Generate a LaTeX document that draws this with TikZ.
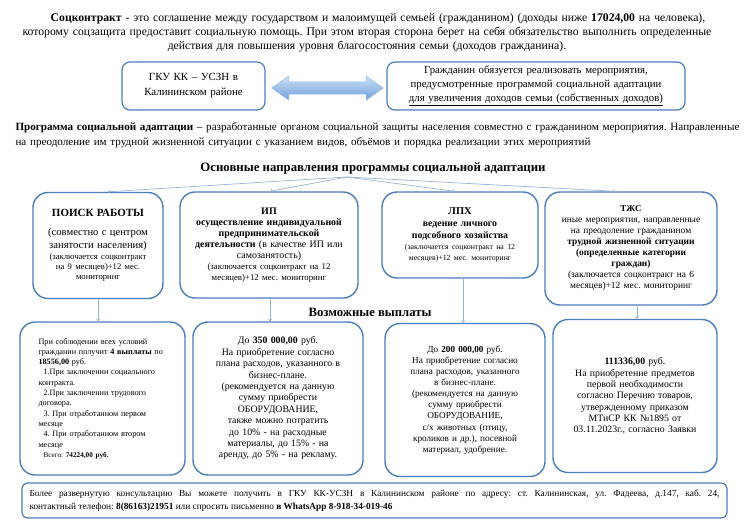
\documentclass[tikz,border=0pt]{standalone}
\usepackage{fontspec}
\setmainfont{Liberation Serif}
\usetikzlibrary{shapes.arrows}
\definecolor{boxblue}{RGB}{74, 126, 187}
\definecolor{linkblue}{RGB}{149, 179, 215}
\definecolor{arrowlight}{RGB}{205, 225, 246}
\definecolor{arrowdark}{RGB}{110, 160, 220}
\newcommand\setsz[2]{\fontsize{#1}{#2}\selectfont}
\frenchspacing

\begin{document}
\begin{tikzpicture}[
    x=1pt, y=-1pt,
    topbox/.style={rectangle, rounded corners=8pt, draw=boxblue, line width=1.2pt,
                   align=center, inner sep=2pt},
    box/.style={rectangle, rounded corners=15pt, draw=boxblue, line width=1.4pt,
                align=center, inner sep=2pt},
    paybox/.style={box, minimum height=153pt},
    link/.style={double arrow, double arrow head extend=6pt, double arrow tip angle=70,
                 minimum height=112pt, minimum width=24pt, inner xsep=0pt, inner ysep=6pt,
                 draw=arrowdark!70, top color=arrowlight, bottom color=arrowdark},
    arrow/.style={->, color=linkblue, line width=0.7pt},
    heading/.style={font=\setsz{12.8}{15}\bfseries}
]
    \useasboundingbox (0,0) rectangle (750,528);

    % Intro text
    \node[text width=740pt, align=center, font=\setsz{11.7}{14}] (intro) at (367,33)
        {\hspace*{22pt}\textbf{Соцконтракт} - это соглашение между государством и малоимущей семьей (гражданином) (доходы ниже \textbf{17024,00} на человека),\\
         которому соцзащита предоставит социальную помощь. При этом вторая сторона берет на себя обязательство выполнить определенные\\
         действия для повышения уровня благосостояния семьи (доходов гражданина).};

    % Parties
    \node[topbox, minimum width=143pt, minimum height=48pt, text width=138pt,
          font=\setsz{10.9}{15}] (gku) at (193.5,86)
        {ГКУ КК – УСЗН в\\ Калининском районе};
    \node[topbox, minimum width=298pt, minimum height=48pt, text width=292pt,
          font=\setsz{10.8}{14}] (goal) at (536,86)
        {Гражданин обязуется реализовать мероприятия,\\
         предусмотренные программой социальной адаптации\\
         \underline{для увеличения доходов семьи (собственных доходов)}};
    \node[link] (link) at (327.5,88) {};

    % Programme text
    \node[anchor=west, text width=738pt, align=left, font=\setsz{11.1}{15}] (prog) at (12,135.5)
        {\textbf{Программа социальной адаптации} – разработанные органом социальной защиты населения совместно с гражданином мероприятия. Направленные\\
         на преодоление им трудной жизненной ситуации с указанием видов, объёмов и порядка реализации этих мероприятий};

    \node[heading] (dirs) at (373,168) {Основные направления программы социальной адаптации};
    \coordinate (hub) at (347,177);

    % Directions
    \node[box, minimum width=130pt, minimum height=106pt, text width=126pt] (poisk) at (98,245.5)
        {{\setsz{11}{13}\bfseries ПОИСК РАБОТЫ\par}\vspace{6pt}
         {\setsz{10.6}{13}(совместно с центром\\ занятости населения)\par}
         {\setsz{8.6}{10.2}(заключается соцконтракт\\ на 9 месяцев)+12 мес.\\ мониторинг\par}};
    \node[box, minimum width=178pt, minimum height=106pt, text width=174pt] (ip) at (269,245)
        {{\setsz{10}{11}\bfseries ИП\par}
         {\setsz{9.9}{11.1}\textbf{осуществление индивидуальной}\\ \textbf{предпринимательской}\\
          \textbf{деятельности} (в качестве ИП или\\ самозанятость)\par}
         {\setsz{8.8}{10.8}(заключается соцконтракт на 12\\ месяцев)+12 мес. мониторинг\par}};
    \node[box, minimum width=156pt, minimum height=86pt, text width=152pt] (lph) at (460,235)
        {{\setsz{10.5}{12}\bfseries ЛПХ\par}
         {\setsz{9.8}{12}\bfseries ведение личного\\ подсобного хозяйства\par}
         {\setsz{7.8}{11}(заключается соцконтракт на 12\\ месяцев)+12 мес. мониторинг\par}};
    \node[box, minimum width=172pt, minimum height=113pt, text width=168pt] (tzhs) at (631,248.5)
        {{\setsz{9}{12}\bfseries ТЖС\par}
         {\setsz{9.4}{11}иные мероприятия, направленные\\ на преодоление гражданином\\
          \textbf{трудной жизненной ситуации}\\ \textbf{(определенные категории}\\ \textbf{граждан)}\\
          (заключается соцконтракт на 6\\ месяцев)+12 мес. мониторинг\par}};

    \draw[arrow] (hub) -- ([xshift=10pt]poisk.north);
    \draw[arrow] (hub) -- ([xshift=1pt]ip.north);
    \draw[arrow] (hub) -- ([xshift=-5pt]lph.north);
    \draw[arrow] (hub) -- ([xshift=-16pt]tzhs.north);

    \node[font=\setsz{12.7}{15}\bfseries] (pays) at (370,312) {Возможные выплаты};

    % Payments
    \node[paybox, minimum width=165pt, text width=128pt, align=left,
          font=\setsz{8.2}{10.3}] (pay1) at (102.5,398.5)
        {При соблюдении всех условий\\ гражданин получит \textbf{4 выплаты} по\\ \textbf{18556,00} руб.\\
         \hspace*{5pt}1.При заключении социального\\ контракта.\\
         \hspace*{5pt}2.При заключении трудового\\ договора.\\
         \hspace*{5pt}3. При отработанном  первом\\ месяце\\
         \hspace*{5pt}4. При отработанном  втором\\ месяце\\
         \hspace*{5pt}{\setsz{7.2}{10.3}Всего: \textbf{74224,00 руб.}}};
    \node[paybox, minimum width=170pt, text width=164pt, font=\setsz{9.8}{11.4}] (pay2) at (278,398.5)
        {До \textbf{350 000,00} руб.\\ На приобретение согласно\\ плана расходов, указанного в\\ бизнес-плане.\\
         (рекомендуется на данную\\ сумму приобрести\\ ОБОРУДОВАНИЕ,\\ также можно потратить\\
         до 10\% - на расходные\\ материалы, до 15\% - на\\ аренду, до 5\% - на рекламу.};
    \node[paybox, minimum width=160pt, text width=154pt, font=\setsz{9.2}{11.1}] (pay3) at (465,400)
        {До \textbf{200 000,00} руб.\\ На приобретение согласно\\ плана расходов, указанного\\ в бизнес-плане.\\
         (рекомендуется на данную\\ сумму приобрести\\ ОБОРУДОВАНИЕ,\\ с/х животных (птицу,\\
         кроликов и др.), посевной\\ материал, удобрение.};
    \node[paybox, minimum width=164pt, text width=158pt, font=\setsz{9.8}{11.3}] (pay4) at (635,396)
        {\textbf{111336,00} руб.\\ На приобретение предметов\\ первой необходимости\\ согласно Перечню товаров,\\
         утвержденному приказом\\ МТиСР КК №1895 от\\ 03.11.2023г., согласно Заявки};

    \draw[arrow] (poisk.south) -- (poisk.south |- pay1.north);
    \draw[arrow] ([xshift=1pt]ip.south) -- ([xshift=1pt]ip.south |- pay2.north);
    \draw[arrow] ([xshift=3pt]lph.south) -- ([xshift=3pt]lph.south |- pay3.north);
    \draw[arrow] ([xshift=6pt]tzhs.south) -- ([xshift=6pt]tzhs.south |- pay4.north);

    % Contacts
    \node[rectangle, rounded corners=6pt, draw=boxblue, line width=1.2pt, minimum width=705pt,
          minimum height=35pt, text width=690pt, align=justify, font=\setsz{9.3}{12.5}] (info) at (374.5,500.5)
        {Более развернутую консультацию Вы можете получить в ГКУ КК-УСЗН в Калининском районе по адресу: ст. Калининская, ул. Фадеева, д.147, каб. 24,\linebreak
         контактный телефон: \textbf{8(86163)21951} или спросить письменно \textbf{в WhatsApp 8-918-34-019-46}};
\end{tikzpicture}
\end{document}
